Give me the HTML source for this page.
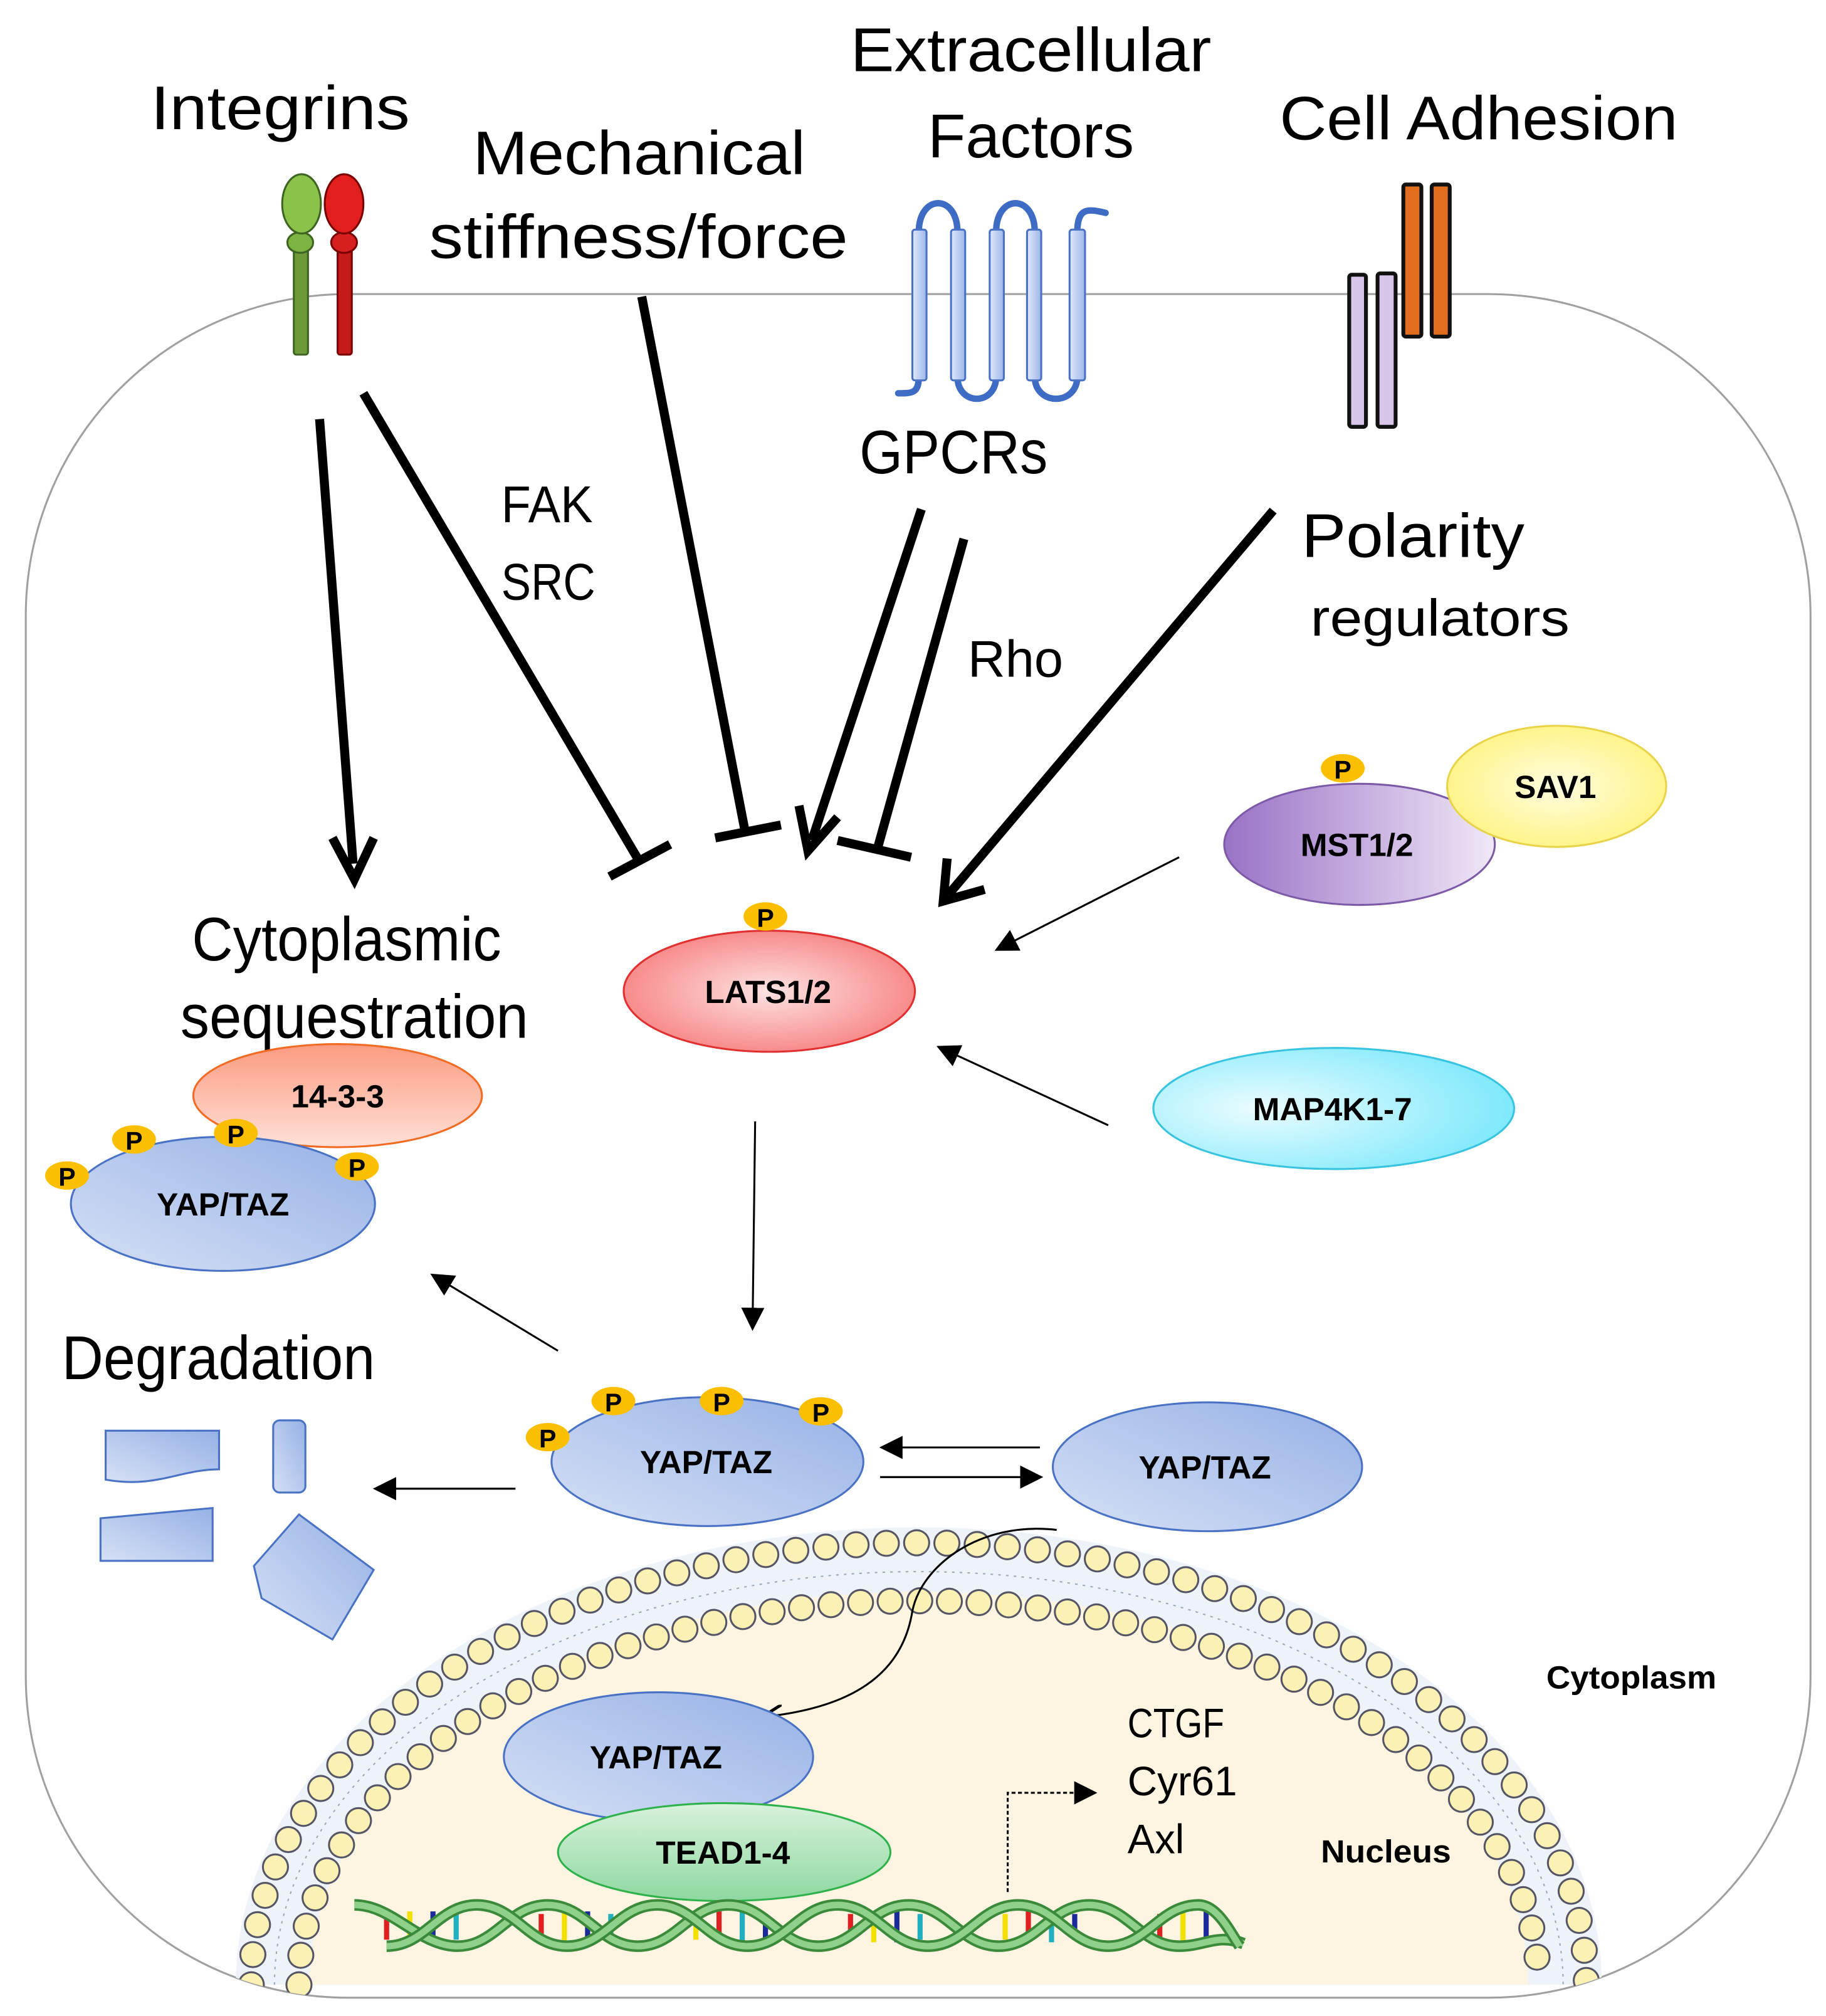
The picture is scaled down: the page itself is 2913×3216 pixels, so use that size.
<!DOCTYPE html>
<html><head><meta charset="utf-8"><style>
html,body{margin:0;padding:0;background:#fff}
svg{display:block}
text{font-family:"Liberation Sans","DejaVu Sans",sans-serif}
.big{font-size:48px}
.b{font-weight:bold;font-size:25px}
</style></head><body>
<svg width="2913" height="3216" viewBox="0 0 1417 1564" xmlns="http://www.w3.org/2000/svg">
<defs>
<linearGradient id="blue" x1="0" y1="1" x2="1" y2="0"><stop offset="0" stop-color="#d6e0f5"/><stop offset="1" stop-color="#95b1e6"/></linearGradient>
<radialGradient id="red" cx="0.5" cy="0.5" r="0.6"><stop offset="0" stop-color="#fde2e2"/><stop offset="1" stop-color="#f77a7a"/></radialGradient>
<linearGradient id="purple" x1="0" y1="0" x2="1" y2="0"><stop offset="0" stop-color="#9a72c6"/><stop offset="1" stop-color="#f0e8f7"/></linearGradient>
<radialGradient id="yellow" cx="0.5" cy="0.5" r="0.6"><stop offset="0" stop-color="#fffde0"/><stop offset="1" stop-color="#fff27a"/></radialGradient>
<radialGradient id="cyan" cx="0.3" cy="0.5" r="0.8"><stop offset="0" stop-color="#eafcff"/><stop offset="1" stop-color="#6fe6fb"/></radialGradient>
<linearGradient id="salmon" x1="0" y1="0" x2="0" y2="1"><stop offset="0" stop-color="#fb9b80"/><stop offset="1" stop-color="#ffe0d8"/></linearGradient>
<linearGradient id="green" x1="0" y1="0" x2="0" y2="1"><stop offset="0" stop-color="#d8f2dc"/><stop offset="1" stop-color="#8ed8a0"/></linearGradient>
<linearGradient id="helix" x1="0" y1="0" x2="1" y2="0"><stop offset="0" stop-color="#dfe8fa"/><stop offset="1" stop-color="#9db6ea"/></linearGradient>
<marker id="ahs" viewBox="0 0 10 10" refX="8" refY="5" markerWidth="18" markerHeight="18" markerUnits="userSpaceOnUse" orient="auto"><path d="M0,0 L10,5 L0,10 z" fill="#000"/></marker>
<marker id="open" viewBox="0 0 10 10" refX="9" refY="5" markerWidth="16" markerHeight="16" markerUnits="userSpaceOnUse" orient="auto"><path d="M0,0 L10,5 L0,10" fill="none" stroke="#000" stroke-width="1.5"/></marker>
<clipPath id="cellclip"><rect x="20" y="228" width="1385" height="1322" rx="250" ry="250"/></clipPath>
</defs>

<rect x="20" y="228" width="1385" height="1322" rx="250" ry="250" fill="#fefefe" stroke="#a0a0a0" stroke-width="1.5"/>

<g clip-path="url(#cellclip)">
<path d="M183,1540 A530,355 0 0 1 1243,1540 Z" fill="#eef3f9"/>
<path d="M240,1540 A473,305 0 0 1 1186,1540 Z" fill="#fdf4e1"/>
<path d="M195,1540 A518,343 0 0 1 1231,1540" fill="none" stroke="#556" stroke-width="21" stroke-dasharray="0 23.5" stroke-linecap="round"/>
<path d="M195,1540 A518,343 0 0 1 1231,1540" fill="none" stroke="#fbf1b5" stroke-width="18" stroke-dasharray="0 23.5" stroke-linecap="round"/>
<path d="M232,1540 A481,298 0 0 1 1194,1540" fill="none" stroke="#556" stroke-width="21" stroke-dasharray="0 23" stroke-linecap="round"/>
<path d="M232,1540 A481,298 0 0 1 1194,1540" fill="none" stroke="#fbf1b5" stroke-width="18" stroke-dasharray="0 23" stroke-linecap="round"/>
<path d="M213,1540 A499,320 0 0 1 1213,1540" fill="none" stroke="#9aa8b8" stroke-width="1" stroke-dasharray="2 4"/>
</g>

<rect x="228" y="185" width="11" height="90" rx="2" fill="#6f9a3a" stroke="#3d6420" stroke-width="1.5"/>
<ellipse cx="233" cy="188" rx="10" ry="8" fill="#7cb342" stroke="#3d6420" stroke-width="1.5"/>
<ellipse cx="234" cy="158" rx="15" ry="23" fill="#8bc34a" stroke="#3d6420" stroke-width="1.5"/>
<rect x="262" y="185" width="11" height="90" rx="2" fill="#c41a1a" stroke="#7a0000" stroke-width="1.5"/>
<ellipse cx="267" cy="188" rx="10" ry="8" fill="#d62020" stroke="#7a0000" stroke-width="1.5"/>
<ellipse cx="267" cy="158" rx="15" ry="23" fill="#e21e1e" stroke="#7a0000" stroke-width="1.5"/>
<g fill="none" stroke="#3e6cc4" stroke-width="5" stroke-linecap="round">
<path d="M713,180 C713,150 743,150 743,180"/>
<path d="M773,180 C773,150 803,150 803,180"/>
<path d="M836,180 C836,160 845,162 858,165"/>
<path d="M713,292 C713,305 708,305 697,305"/>
<path d="M743,292 C743,315 773,315 773,292"/>
<path d="M803,292 C803,315 836,315 836,292"/>
</g>
<g fill="url(#helix)" stroke="#4a72c4" stroke-width="1.5">
<rect x="708" y="178" width="11" height="117" rx="2"/>
<rect x="738" y="178" width="11" height="117" rx="2"/>
<rect x="768" y="178" width="11" height="117" rx="2"/>
<rect x="797" y="178" width="11" height="117" rx="2"/>
<rect x="830" y="178" width="12" height="117" rx="2"/>
</g>
<rect x="1089" y="143" width="14" height="118" rx="2" fill="#e06e1e" stroke="#111" stroke-width="3"/>
<rect x="1111" y="143" width="14" height="118" rx="2" fill="#e06e1e" stroke="#111" stroke-width="3"/>
<rect x="1047" y="213" width="13" height="118" rx="2" fill="#d8c6ea" stroke="#111" stroke-width="3"/>
<rect x="1069" y="212" width="14" height="119" rx="2" fill="#d8c6ea" stroke="#111" stroke-width="3"/>

<g lengthAdjust="spacingAndGlyphs">
<text class="big" x="117" y="100" textLength="201" lengthAdjust="spacingAndGlyphs">Integrins</text>
<text class="big" x="367" y="135" textLength="258" lengthAdjust="spacingAndGlyphs">Mechanical</text>
<text class="big" x="333" y="200" textLength="325" lengthAdjust="spacingAndGlyphs">stiffness/force</text>
<text class="big" x="660" y="55" textLength="280" lengthAdjust="spacingAndGlyphs">Extracellular</text>
<text class="big" x="720" y="122" textLength="160" lengthAdjust="spacingAndGlyphs">Factors</text>
<text class="big" x="993" y="108" textLength="309" lengthAdjust="spacingAndGlyphs">Cell Adhesion</text>
<text class="big" x="667" y="367" textLength="146" lengthAdjust="spacingAndGlyphs">GPCRs</text>
<text x="389" y="405" font-size="40" textLength="71" lengthAdjust="spacingAndGlyphs">FAK</text>
<text x="389" y="465" font-size="40" textLength="73" lengthAdjust="spacingAndGlyphs">SRC</text>
<text x="751" y="525" font-size="40" textLength="74" lengthAdjust="spacingAndGlyphs">Rho</text>
<text x="1010" y="432" font-size="48" textLength="173" lengthAdjust="spacingAndGlyphs">Polarity</text>
<text x="1017" y="493" font-size="40" textLength="201" lengthAdjust="spacingAndGlyphs">regulators</text>
<text class="big" x="149" y="745" textLength="240" lengthAdjust="spacingAndGlyphs">Cytoplasmic</text>
<text class="big" x="140" y="805" textLength="270" lengthAdjust="spacingAndGlyphs">sequestration</text>
<text class="big" x="48" y="1070" textLength="243" lengthAdjust="spacingAndGlyphs">Degradation</text>
<text x="875" y="1348" font-size="32" textLength="75" lengthAdjust="spacingAndGlyphs">CTGF</text>
<text x="875" y="1393" font-size="32" textLength="85" lengthAdjust="spacingAndGlyphs">Cyr61</text>
<text x="875" y="1438" font-size="32" textLength="44" lengthAdjust="spacingAndGlyphs">Axl</text>
<text class="b" x="1200" y="1310" textLength="132" lengthAdjust="spacingAndGlyphs">Cytoplasm</text>
<text class="b" x="1025" y="1445" textLength="101" lengthAdjust="spacingAndGlyphs">Nucleus</text>
</g>

<g stroke="#000" stroke-width="7" fill="none">
<line x1="248" y1="325" x2="274" y2="670"/>
<path d="M258,650 L275,682 L290,650"/>
<line x1="282" y1="305" x2="496" y2="668"/>
<line x1="473" y1="680" x2="520" y2="655"/>
<line x1="498" y1="230" x2="578" y2="644"/>
<line x1="555" y1="650" x2="606" y2="640"/>
<line x1="715" y1="395" x2="630" y2="652"/>
<path d="M620,625 L627,660 L650,634"/>
<line x1="748" y1="418" x2="681" y2="658"/>
<line x1="650" y1="652" x2="707" y2="665"/>
<line x1="988" y1="396" x2="736" y2="694"/>
<path d="M735,666 L732,699 L764,690"/>
</g>

<g stroke="#000" stroke-width="1.5" fill="none">
<line x1="915" y1="665" x2="775" y2="736" marker-end="url(#ahs)"/>
<line x1="860" y1="873" x2="730" y2="813" marker-end="url(#ahs)"/>
<line x1="586" y1="870" x2="584" y2="1029" marker-end="url(#ahs)"/>
<line x1="433" y1="1048" x2="337" y2="990" marker-end="url(#ahs)"/>
<line x1="400" y1="1155" x2="293" y2="1155" marker-end="url(#ahs)"/>
<line x1="807" y1="1123" x2="686" y2="1123" marker-end="url(#ahs)"/>
<line x1="683" y1="1146" x2="806" y2="1146" marker-end="url(#ahs)"/>
<path d="M820,1187 C760,1180 715,1215 708,1250 C700,1300 660,1325 593,1332" marker-end="url(#open)"/>
<path d="M782,1468 L782,1391 L848,1391" stroke-dasharray="3 2" marker-end="url(#ahs)"/>
</g>

<g fill="url(#blue)" stroke="#4a72c4" stroke-width="1.5">
<path d="M82,1110 L170,1110 L170,1140 C140,1140 120,1155 82,1148 Z"/>
<rect x="212" y="1102" width="25" height="56" rx="5"/>
<path d="M78,1178 L165,1170 L165,1211 L78,1211 Z"/>
<path d="M232,1175 L290,1218 L258,1272 L203,1240 L197,1215 Z"/>
</g>

<ellipse cx="1055" cy="655" rx="105" ry="47" fill="url(#purple)" stroke="#7d5aa8" stroke-width="1.5"/>
<ellipse cx="1208" cy="610" rx="85" ry="47" fill="url(#yellow)" stroke="#e8d44a" stroke-width="1.5"/>
<text class="b" x="1053" y="664" text-anchor="middle">MST1/2</text>
<text class="b" x="1207" y="619" text-anchor="middle">SAV1</text>
<ellipse cx="1035" cy="860" rx="140" ry="47" fill="url(#cyan)" stroke="#38c4e0" stroke-width="1.5"/>
<text class="b" x="1034" y="869" text-anchor="middle">MAP4K1-7</text>
<ellipse cx="597" cy="769" rx="113" ry="47" fill="url(#red)" stroke="#e03030" stroke-width="1.5"/>
<text class="b" x="596" y="778" text-anchor="middle">LATS1/2</text>
<ellipse cx="262" cy="850" rx="112" ry="40" fill="url(#salmon)" stroke="#f26b22" stroke-width="1.5"/>
<text class="b" x="262" y="859" text-anchor="middle">14-3-3</text>
<ellipse cx="173" cy="934" rx="118" ry="52" fill="url(#blue)" stroke="#4a72c4" stroke-width="1.5"/>
<text class="b" x="173" y="943" text-anchor="middle">YAP/TAZ</text>
<ellipse cx="549" cy="1134" rx="121" ry="50" fill="url(#blue)" stroke="#4a72c4" stroke-width="1.5"/>
<text class="b" x="548" y="1143" text-anchor="middle">YAP/TAZ</text>
<ellipse cx="937" cy="1138" rx="120" ry="50" fill="url(#blue)" stroke="#4a72c4" stroke-width="1.5"/>
<text class="b" x="935" y="1147" text-anchor="middle">YAP/TAZ</text>
<ellipse cx="511" cy="1363" rx="120" ry="50" fill="url(#blue)" stroke="#4a72c4" stroke-width="1.5"/>
<text class="b" x="509" y="1372" text-anchor="middle">YAP/TAZ</text>
<ellipse cx="562" cy="1437" rx="129" ry="38" fill="url(#green)" stroke="#2fb24c" stroke-width="1.5"/>
<text class="b" x="561" y="1446" text-anchor="middle">TEAD1-4</text>

<g font-weight="bold" font-size="20" text-anchor="middle">
<g fill="#fbbf00">
<ellipse cx="594" cy="711" rx="17" ry="11"/><ellipse cx="1042" cy="596" rx="17" ry="11"/>
<ellipse cx="52" cy="912" rx="17" ry="11"/><ellipse cx="104" cy="884" rx="17" ry="11"/>
<ellipse cx="183" cy="879" rx="17" ry="11"/><ellipse cx="277" cy="905" rx="17" ry="11"/>
<ellipse cx="425" cy="1115" rx="17" ry="11"/><ellipse cx="476" cy="1087" rx="17" ry="11"/>
<ellipse cx="560" cy="1087" rx="17" ry="11"/><ellipse cx="637" cy="1095" rx="17" ry="11"/>
</g>
<text x="594" y="719">P</text><text x="1042" y="604">P</text>
<text x="52" y="920">P</text><text x="104" y="892">P</text>
<text x="183" y="887">P</text><text x="277" y="913">P</text>
<text x="425" y="1123">P</text><text x="476" y="1095">P</text>
<text x="560" y="1095">P</text><text x="637" y="1103">P</text>
</g>

<g>
<g stroke-width="4">
<line x1="300" y1="1485" x2="300" y2="1505" stroke="#e02020"/><line x1="318" y1="1483" x2="318" y2="1507" stroke="#f4e000"/><line x1="336" y1="1483" x2="336" y2="1507" stroke="#1a2a9a"/><line x1="354" y1="1485" x2="354" y2="1505" stroke="#20b0c0"/>
<line x1="420" y1="1485" x2="420" y2="1505" stroke="#e02020"/><line x1="438" y1="1483" x2="438" y2="1507" stroke="#f4e000"/><line x1="456" y1="1483" x2="456" y2="1507" stroke="#1a2a9a"/><line x1="474" y1="1485" x2="474" y2="1505" stroke="#20b0c0"/>
<line x1="540" y1="1485" x2="540" y2="1505" stroke="#f4e000"/><line x1="558" y1="1483" x2="558" y2="1507" stroke="#e02020"/><line x1="576" y1="1483" x2="576" y2="1507" stroke="#20b0c0"/><line x1="594" y1="1485" x2="594" y2="1505" stroke="#1a2a9a"/>
<line x1="660" y1="1485" x2="660" y2="1505" stroke="#e02020"/><line x1="678" y1="1483" x2="678" y2="1507" stroke="#f4e000"/><line x1="696" y1="1483" x2="696" y2="1507" stroke="#1a2a9a"/><line x1="714" y1="1485" x2="714" y2="1505" stroke="#20b0c0"/>
<line x1="780" y1="1485" x2="780" y2="1505" stroke="#f4e000"/><line x1="798" y1="1483" x2="798" y2="1507" stroke="#e02020"/><line x1="816" y1="1483" x2="816" y2="1507" stroke="#20b0c0"/><line x1="834" y1="1485" x2="834" y2="1505" stroke="#1a2a9a"/>
<line x1="900" y1="1485" x2="900" y2="1505" stroke="#e02020"/><line x1="918" y1="1483" x2="918" y2="1507" stroke="#f4e000"/><line x1="936" y1="1483" x2="936" y2="1507" stroke="#1a2a9a"/>
</g>
<path d="M275,1478 C305,1478 325,1510 355,1510 C385,1510 395,1478 425,1478 C455,1478 465,1510 495,1510 C525,1510 535,1478 565,1478 C595,1478 605,1510 635,1510 C665,1510 675,1478 705,1478 C735,1478 745,1510 775,1510 C805,1510 815,1478 845,1478 C875,1478 885,1510 915,1510 C935,1510 945,1500 965,1508" fill="none" stroke="#3b8a3b" stroke-width="9"/>
<path d="M275,1478 C305,1478 325,1510 355,1510 C385,1510 395,1478 425,1478 C455,1478 465,1510 495,1510 C525,1510 535,1478 565,1478 C595,1478 605,1510 635,1510 C665,1510 675,1478 705,1478 C735,1478 745,1510 775,1510 C805,1510 815,1478 845,1478 C875,1478 885,1510 915,1510 C935,1510 945,1500 965,1508" fill="none" stroke="#8fd08a" stroke-width="5"/>
<path d="M300,1510 C330,1510 340,1478 370,1478 C400,1478 410,1510 440,1510 C470,1510 480,1478 510,1478 C540,1478 550,1510 580,1510 C610,1510 620,1478 650,1478 C680,1478 690,1510 720,1510 C750,1510 760,1478 790,1478 C820,1478 830,1510 860,1510 C890,1510 900,1478 930,1478 C945,1478 955,1500 962,1510" fill="none" stroke="#3b8a3b" stroke-width="9"/>
<path d="M300,1510 C330,1510 340,1478 370,1478 C400,1478 410,1510 440,1510 C470,1510 480,1478 510,1478 C540,1478 550,1510 580,1510 C610,1510 620,1478 650,1478 C680,1478 690,1510 720,1510 C750,1510 760,1478 790,1478 C820,1478 830,1510 860,1510 C890,1510 900,1478 930,1478 C945,1478 955,1500 962,1510" fill="none" stroke="#8fd08a" stroke-width="5"/>
</g>
</svg>
</body></html>
